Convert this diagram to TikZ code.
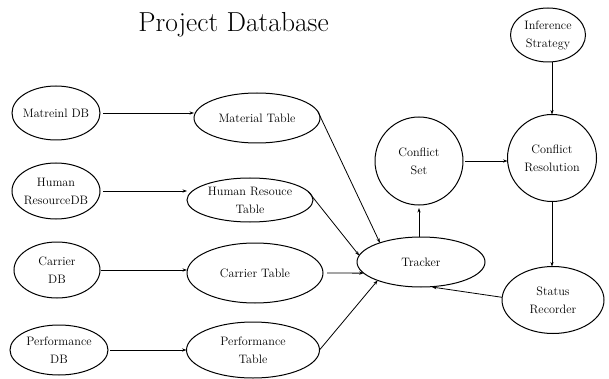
\documentclass[tikz,border=0pt]{standalone}
\usetikzlibrary{shapes.geometric,arrows.meta}
\begin{document}
\begin{tikzpicture}[x=1pt,y=-1pt,
  every node/.style={outer sep=0pt},
  oval/.style={ellipse,draw,line width=1pt,align=center,inner xsep=-12pt,inner ysep=0pt,
    font=\fontsize{12.2}{18}\selectfont},
  arr/.style={-{Stealth[length=4.5pt,width=3.2pt]},line width=0.8pt}]
\useasboundingbox[fill=white] (0,0) rectangle (609,379);

\node[anchor=base,inner sep=0pt,font=\fontsize{27.5}{30}\selectfont] (title) at (233.5,32) {Project Database};

% left column
\node[oval,minimum width=88pt,minimum height=54pt] (mdb) at (56,113) {Matreinl DB};
\node[oval,minimum width=88pt,minimum height=56pt] (hdb) at (56,191) {Human\\ResourceDB};
\node[oval,minimum width=86pt,minimum height=56pt] (cdb) at (57,270) {Carrier\\DB};
\node[oval,minimum width=98pt,minimum height=50pt] (pdb) at (59,350) {Performance\\DB};

% tables
\node[oval,minimum width=126pt,minimum height=50pt] (mt) at (257,118) {Material Table};
\node[oval,minimum width=126pt,minimum height=44pt] (ht) at (250,200) {Human Resouce\\Table};
\node[oval,minimum width=136pt,minimum height=60pt] (ct) at (255,273) {Carrier Table};
\node[oval,minimum width=133pt,minimum height=56pt] (pt) at (253,350) {Performance\\Table};

% right part
\node[oval,minimum width=128pt,minimum height=50pt] (tr) at (421,262) {Tracker};
\node[oval,minimum width=88pt,minimum height=88pt] (cs) at (419,161) {Conflict\\Set};
\node[oval,minimum width=89pt,minimum height=87pt] (cr) at (552,158) {Conflict\\Resolution};
\node[oval,minimum width=75pt,minimum height=54pt] (is) at (548,35) {Inference\\Strategy};
\node[oval,minimum width=102pt,minimum height=67pt] (sr) at (553,300) {Status\\Recorder};

% connectors
\draw[arr,shorten <=3pt] (mdb.east) -- (mt.west |- mdb.east);
\draw[arr,shorten <=3pt] (hdb.east) -- (ht.west |- hdb.east);
\draw[arr,shorten <=1pt] (cdb.east) -- (ct.west |- cdb.east);
\draw[arr,shorten <=2pt] (pdb.east) -- (pt.west |- pdb.east);

\draw[arr] (mt.6) -- (tr.155);
\draw[arr] (ht.8) -- (tr.174);
\draw[arr,shorten <=4pt] (ct.east) -- (tr.191);
\draw[arr] (pt.east) -- (tr.203);

\draw[arr,shorten >=3pt] (tr.north -| cs.south) -- (cs.south);
\draw[arr,shorten <=2pt] (cs.east) -- (cs.east -| cr.west);
\draw[arr] (cr.north |- is.south) -- (cr.north);
\draw[arr] (cr.south) -- (cr.south |- sr.north);
\draw[arr,shorten >=2pt] (sr.177) -- (tr.290);
\end{tikzpicture}
\end{document}
